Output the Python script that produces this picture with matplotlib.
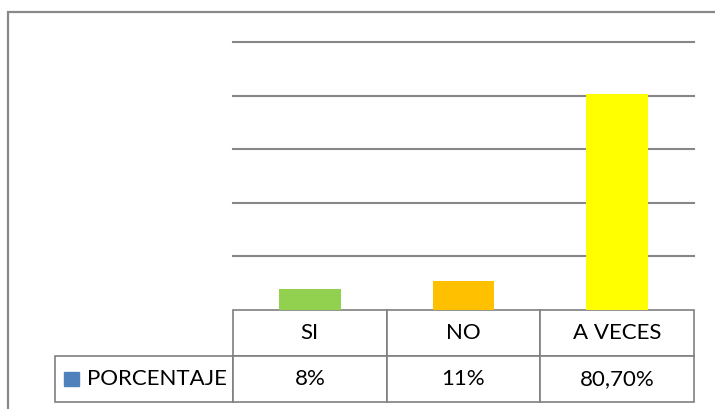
import matplotlib
matplotlib.use("Agg")
import matplotlib.pyplot as plt
from matplotlib.patches import Rectangle

categories = ["SI", "NO", "A VECES"]
values = [8, 11, 80.7]
value_labels = ["8%", "11%", "80,70%"]
series_name = "PORCENTAJE"
bar_colors = ["#92D050", "#FFC000", "#FFFF00"]

plt.rcParams['font.family'] = ['Lato', 'DejaVu Sans']

W, H = 715, 409
fig = plt.figure(figsize=(W / 100, H / 100), dpi=100)

# outer chart frame (runs off the right and bottom of the image)
fig.patches.append(Rectangle((8 / W, -0.1), 1.2, 1 - 12 / H + 0.1,
                             transform=fig.transFigure, fill=False,
                             edgecolor="#898989", linewidth=1.6))

x0, x1, y0, y1 = 233, 694, 310, 42
ax = fig.add_axes([x0 / W, 1 - y0 / H, (x1 - x0) / W, (y0 - y1) / H])
ax.bar(range(len(values)), values, width=0.4, color=bar_colors, zorder=3)
ax.set_xlim(-0.5, 2.5)
ax.set_ylim(0, 100)
ax.set_yticks([20, 40, 60, 80, 100])
ax.yaxis.grid(True, color="#878787", linewidth=1.5)
for gl in ax.get_ygridlines():
    gl.set_clip_on(False)
ax.tick_params(left=False, bottom=False, labelleft=False, labelbottom=False)
for s in ax.spines.values():
    s.set_visible(False)

# data table under the plot, sizes in axes units
ax_w = x1 - x0
ax_h = y0 - y1
t_left = 55
row_h = 46 / ax_h
tbl = ax.table(cellText=[value_labels], rowLabels=[series_name],
               colLabels=categories, cellLoc="center", rowLoc="left",
               colWidths=[1 / 3] * 3, loc="bottom")
tbl.auto_set_font_size(False)
tbl._autoColumns = []  # keep the fixed row-label width
for (r, c), cell in tbl.get_celld().items():
    cell.set_edgecolor("#7f7f7f")
    cell.set_linewidth(1.2)
    cell.get_text().set_fontsize(16)
    cell.set_height(row_h)
    if c == -1:
        cell.set_width((x0 - t_left) / ax_w)
        cell.PAD = 0.18

# legend key in the row label cell
ax.add_patch(Rectangle(((64 - x0) / ax_w, -(386 - y0) / ax_h),
                       15 / ax_w, 14 / ax_h, transform=ax.transAxes,
                       color="#4F81BD", clip_on=False))

fig.savefig("out.png", dpi=100)
